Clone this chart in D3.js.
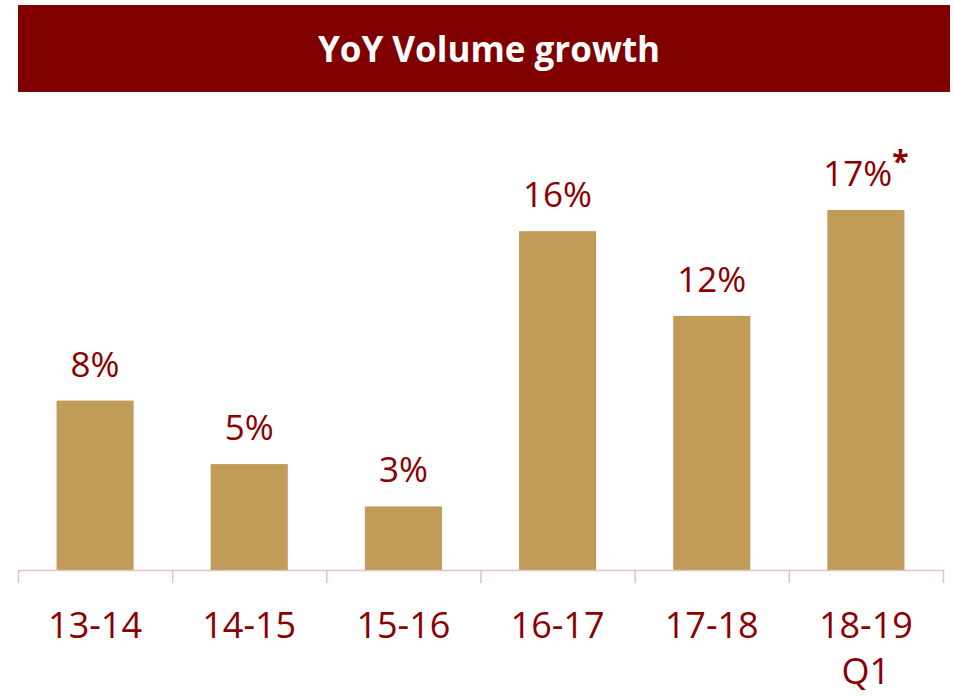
<!DOCTYPE html>
<html>
<head>
    <script src="https://cdn.jsdelivr.net/npm/d3@7"></script>
    <style>
        body { margin: 0; background: #fff; }
        svg { display: block; font-family: "Open Sans", sans-serif; }
    </style>
</head>
<body>
    <div id="chart"></div>
    <script>
        const categories = ["13-14", "14-15", "15-16", "16-17", "17-18", "18-19\nQ1"];
        const growth = [8, 5, 3, 16, 12, 17];
        const notes = ["", "", "", "", "", "*"];
        const title = "YoY Volume growth";

        const W = 953, H = 696;
        const left = 18, right = 943, base = 570;
        const barColor = "#c19b58";
        const textColor = "#8b0000";

        const svg = d3.select("#chart").append("svg")
            .attr("width", W)
            .attr("height", H);

        // title banner
        svg.append("rect")
            .attr("x", 18).attr("y", 5)
            .attr("width", 932).attr("height", 87)
            .attr("fill", "#800000");
        svg.append("text")
            .attr("x", 489).attr("y", 62)
            .attr("text-anchor", "middle")
            .attr("fill", "#fff")
            .style("font-size", "35px")
            .style("font-weight", "bold")
            .text(title);

        const x = d3.scaleBand()
            .domain(categories)
            .range([left, right])
            .paddingInner(0.5)
            .paddingOuter(0.25);

        const y = d3.scaleLinear()
            .domain([0, 17])
            .range([base, 210]);

        // bars
        svg.append("g").selectAll("rect")
            .data(growth)
            .join("rect")
            .attr("x", (d, i) => x(categories[i]))
            .attr("y", d => y(d))
            .attr("width", x.bandwidth())
            .attr("height", d => base - y(d))
            .attr("fill", barColor);

        // value labels
        const lbl = svg.append("g").selectAll("text")
            .data(growth)
            .join("text")
            .attr("x", (d, i) => x(categories[i]) + x.bandwidth() / 2)
            .attr("y", d => y(d) - 24)
            .attr("text-anchor", "middle")
            .attr("fill", textColor)
            .style("font-size", "35px");
        lbl.append("tspan").text(d => d + "%");
        lbl.append("tspan")
            .attr("dy", -14)
            .style("font-size", "30px")
            .style("font-weight", "bold")
            .text((d, i) => notes[i]);

        // category axis with ticks between categories
        const edges = d3.scaleLinear().domain([0, categories.length]).range([left, right]);
        const axis = svg.append("g")
            .attr("transform", `translate(0,${base})`)
            .call(d3.axisBottom(edges)
                .tickValues(d3.range(categories.length + 1))
                .tickSize(13)
                .tickSizeOuter(0)
                .tickFormat(""));
        axis.selectAll("path, line").attr("stroke", "#e2c3c5").attr("stroke-width", 1.5);

        // category labels
        const cat = svg.append("g").selectAll("text")
            .data(categories)
            .join("text")
            .attr("x", d => x(d) + x.bandwidth() / 2)
            .attr("y", 638)
            .attr("text-anchor", "middle")
            .attr("fill", textColor)
            .style("font-size", "36px");
        cat.selectAll("tspan")
            .data(d => d.split("\n"))
            .join("tspan")
            .attr("x", function () { return d3.select(this.parentNode).attr("x"); })
            .attr("dy", (d, i) => i === 0 ? 0 : 46)
            .text(d => d);
    </script>
</body>
</html>
